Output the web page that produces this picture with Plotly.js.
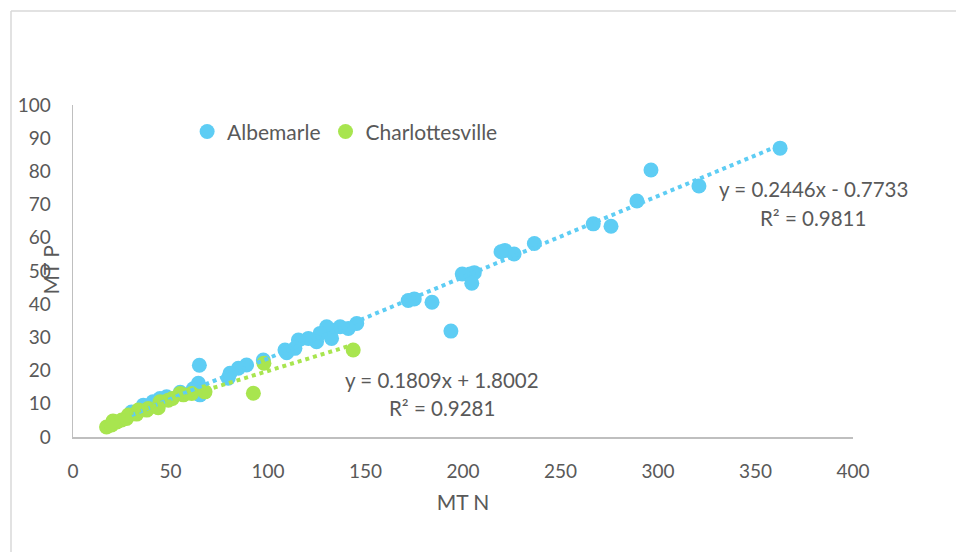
<!DOCTYPE html>
<html>
<head>
<meta charset="utf-8">
<script src="https://cdn.plot.ly/plotly-3.0.1.min.js"></script>
<style>html,body{margin:0;padding:0;background:#fff;}#chart{width:956px;height:552px;}</style>
</head>
<body>
<div id="chart"></div>
<script>
// Albemarle (MT N, MT P)
var albX = [362.6, 296.4, 321.0, 289.2, 266.8, 275.9, 236.6, 221.5, 226.2, 219.5,
            203.6, 205.8, 204.5, 199.6, 184.1, 171.9, 175.0, 193.8, 145.5, 141.2,
            137.0, 132.6, 130.1, 126.7, 132.6, 124.9, 120.7, 115.6, 113.8, 108.7,
            109.6, 97.6, 89.0, 84.8, 80.5, 79.6, 64.8, 64.3, 61.7, 65.1,
            48.0, 44.6, 36.1, 41.0, 30.0, 55.0];
var albY = [87.0, 80.4, 75.6, 71.1, 64.2, 63.5, 58.3, 56.2, 55.1, 55.8,
            49.1, 49.5, 46.3, 49.1, 40.6, 41.1, 41.6, 31.9, 34.2, 32.7,
            33.2, 32.2, 33.2, 31.2, 29.7, 28.7, 29.7, 29.2, 26.7, 26.2,
            25.4, 23.2, 21.7, 20.7, 19.2, 17.7, 21.6, 16.2, 14.5, 12.7,
            12.1, 11.6, 9.6, 10.6, 7.5, 13.5];
// Charlottesville
var chaX = [17.2, 19.8, 22.5, 25.0, 27.5, 28.4, 32.6, 33.5, 37.8, 38.6,
            43.7, 44.6, 48.9, 51.0, 54.9, 56.6, 60.9, 67.7, 92.5, 97.9,
            143.7, 20.5];
var chaY = [3.0, 3.6, 4.5, 5.1, 5.6, 6.6, 6.9, 8.1, 8.1, 8.6,
            8.8, 10.6, 11.1, 11.6, 13.1, 12.7, 13.1, 13.6, 13.2, 22.2,
            26.2, 4.8];
// Trendline equations as printed on the chart
var albSlope = 0.2446, albIntercept = -0.7733, albR2 = 0.9811;
var chaSlope = 0.1809, chaIntercept = 1.8002, chaR2 = 0.9281;
var xTicks = [0, 50, 100, 150, 200, 250, 300, 350, 400];
var yTicks = [0, 10, 20, 30, 40, 50, 60, 70, 80, 90, 100];

var BLUE = '#5ECDF4', GREEN = '#A8E54F', GRAY = '#595959';
function trend(xs, m, b) {
  var lo = Math.min.apply(null, xs), hi = Math.max.apply(null, xs);
  return {x: [lo, hi], y: [m * lo + b, m * hi + b]};
}
var tA = trend(albX, albSlope, albIntercept);
var tC = trend(chaX, chaSlope, chaIntercept);

var traces = [
  {type: 'scatter', mode: 'markers', name: 'Albemarle', x: albX, y: albY,
   marker: {color: BLUE, size: 15}},
  {type: 'scatter', mode: 'markers', name: 'Charlottesville', x: chaX, y: chaY,
   marker: {color: GREEN, size: 15}},
  {type: 'scatter', mode: 'lines', showlegend: false, hoverinfo: 'skip', x: tA.x, y: tA.y,
   line: {color: BLUE, width: 4, dash: 'dot'}},
  {type: 'scatter', mode: 'lines', showlegend: false, hoverinfo: 'skip', x: tC.x, y: tC.y,
   line: {color: GREEN, width: 4, dash: 'dot'}}
];

function fmt(v) { return v.toFixed(4); }
var eqA = 'y = ' + fmt(albSlope) + 'x ' + (albIntercept < 0 ? '- ' : '+ ') + fmt(Math.abs(albIntercept));
var eqC = 'y = ' + fmt(chaSlope) + 'x ' + (chaIntercept < 0 ? '- ' : '+ ') + fmt(Math.abs(chaIntercept));
var F = 'Lato, "Open Sans", sans-serif';
var annFont = {family: F, size: 20.5, color: GRAY};

var layout = {
  width: 956, height: 552,
  margin: {l: 73, r: 103, t: 105, b: 115},
  paper_bgcolor: '#fff', plot_bgcolor: '#fff',
  font: {family: F, size: 19, color: GRAY},
  showlegend: true,
  legend: {orientation: 'h', x: 0.1463, y: 0.919, xanchor: 'left', yanchor: 'middle',
           font: {family: F, size: 21, color: GRAY}, bgcolor: 'rgba(0,0,0,0)', itemclick: false},
  xaxis: {range: [0, 400], tickvals: xTicks, ticktext: xTicks.map(String), showgrid: false, zeroline: false,
          showline: true, linecolor: '#bfbfbf', linewidth: 1.5, ticks: '', ticklabelstandoff: 17,
          tickfont: {family: F, size: 19, color: GRAY},
          title: {text: 'MT N', font: {family: F, size: 21, color: GRAY}, standoff: 14}},
  yaxis: {range: [0, 100], tickvals: yTicks, ticktext: yTicks.map(String), showgrid: false, zeroline: false,
          showline: true, linecolor: '#bfbfbf', linewidth: 1.5, ticks: '', ticklabelstandoff: 17,
          tickfont: {family: F, size: 19, color: GRAY}},
  annotations: [
    {text: 'MT P', xref: 'paper', yref: 'paper', x: (35 - 73) / 780, y: (437 - 270) / 332,
     showarrow: false, textangle: -90, font: {family: F, size: 21, color: GRAY}},
    {text: eqA, xref: 'x', yref: 'y', x: 379.5, y: 74.7, showarrow: false, font: annFont},
    {text: 'R² = ' + fmt(albR2), xref: 'x', yref: 'y', x: 379.5, y: 66.0, showarrow: false, font: annFont},
    {text: eqC, xref: 'x', yref: 'y', x: 189.2, y: 17.2, showarrow: false, font: annFont},
    {text: 'R² = ' + fmt(chaR2), xref: 'x', yref: 'y', x: 189.2, y: 8.7, showarrow: false, font: annFont}
  ],
  shapes: [
    {type: 'line', xref: 'paper', yref: 'paper', x0: (11 - 73) / 780, x1: (11 - 73) / 780,
     y0: (437 - 11) / 332, y1: (437 - 560) / 332, line: {color: '#d9d9d9', width: 1.5}},
    {type: 'line', xref: 'paper', yref: 'paper', x0: (11 - 73) / 780, x1: (960 - 73) / 780,
     y0: (437 - 11) / 332, y1: (437 - 11) / 332, line: {color: '#d9d9d9', width: 1.5}}
  ]
};
Plotly.newPlot('chart', traces, layout, {displayModeBar: false, staticPlot: true});
</script>
</body>
</html>
